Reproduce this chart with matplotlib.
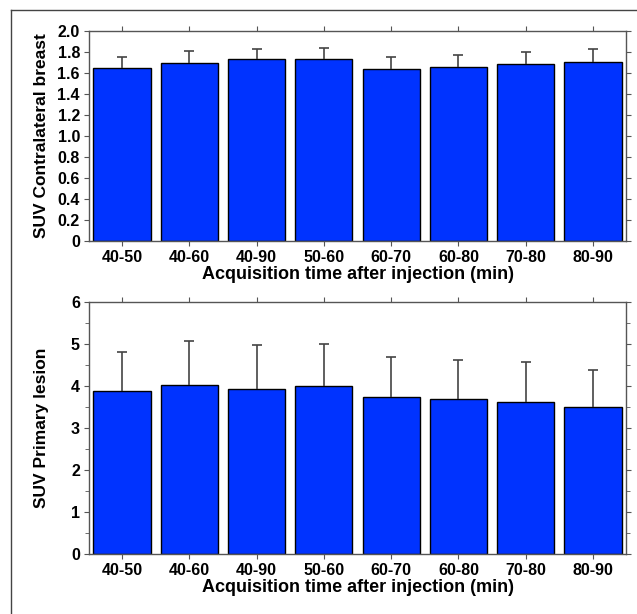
import matplotlib.pyplot as plt
import numpy as np
from matplotlib.lines import Line2D

# data
labels = ['40-50', '40-60', '40-90', '50-60', '60-70', '60-80', '70-80', '80-90']
breast_mean = [1.65, 1.70, 1.73, 1.735, 1.64, 1.66, 1.685, 1.705]
breast_sd = [0.105, 0.112, 0.102, 0.102, 0.110, 0.107, 0.113, 0.120]
lesion_mean = [3.89, 4.02, 3.93, 3.99, 3.75, 3.69, 3.63, 3.51]
lesion_sd = [0.92, 1.04, 1.04, 1.01, 0.94, 0.94, 0.94, 0.88]

plt.rcParams['font.family'] = ['Liberation Sans', 'DejaVu Sans']

bar_color = '#0033ff'
spine_color = '#555555'
err_color = '#444444'

fig = plt.figure(figsize=(6.37, 6.14), dpi=100)

# outer frame (left and top edge visible)
fig.add_artist(Line2D([10.5/637, 10.5/637], [0, 1-9.5/614], transform=fig.transFigure,
                      color='#444444', lw=1.0))
fig.add_artist(Line2D([10.5/637, 1], [1-9.5/614, 1-9.5/614], transform=fig.transFigure,
                      color='#444444', lw=1.0))

ax1 = fig.add_axes([89/637, 1-241/614, 537/637, 210/614])
ax2 = fig.add_axes([89/637, 1-554/614, 537/637, 252/614])

x = np.arange(len(labels))


def draw(ax, mean, sd, ymax, yticks, yticklabels, ylabel, minor=None):
    ax.bar(x, mean, width=0.85, color=bar_color, edgecolor='black', linewidth=1.0, zorder=2)
    eb = ax.errorbar(x, mean, yerr=[np.zeros(len(sd)), sd], fmt='none', ecolor=err_color,
                     elinewidth=1.2, capsize=3.5, capthick=1.2, zorder=3)
    # only the upper cap is drawn in the original
    eb[1][0].set_visible(False)
    ax.set_xlim(-0.49, len(labels) - 0.51)
    ax.set_ylim(0, ymax)
    ax.set_xticks(x)
    ax.set_xticklabels(labels, fontsize=11.5, fontweight='bold')
    ax.set_yticks(yticks)
    ax.set_yticklabels(yticklabels, fontsize=11.5, fontweight='bold')
    if minor is not None:
        ax.set_yticks(minor, minor=True)
        ax.tick_params(axis='y', which='minor', direction='out', length=3,
                       color=spine_color, left=True, right=True)
    ax.tick_params(axis='both', which='major', direction='out', length=3.5, width=0.8,
                   color=spine_color, top=True, right=True, pad=3)
    ax.set_xlabel('Acquisition time after injection (min)', fontsize=13,
                  fontweight='bold', labelpad=1)
    ax.set_ylabel(ylabel, fontsize=12.5, fontweight='bold')
    ax.yaxis.set_label_coords(-0.075, 0.5)
    for s in ax.spines.values():
        s.set_color(spine_color)
        s.set_linewidth(1.0)


draw(ax1, breast_mean, breast_sd, 2.0, np.arange(0, 2.01, 0.2),
     ['0', '0.2', '0.4', '0.6', '0.8', '1.0', '1.2', '1.4', '1.6', '1.8', '2.0'],
     'SUV Contralateral breast')
draw(ax2, lesion_mean, lesion_sd, 6, np.arange(0, 7, 1),
     ['0', '1', '2', '3', '4', '5', '6'], 'SUV Primary lesion',
     minor=np.arange(0.5, 6, 1))

plt.savefig('out.png', dpi=100)
